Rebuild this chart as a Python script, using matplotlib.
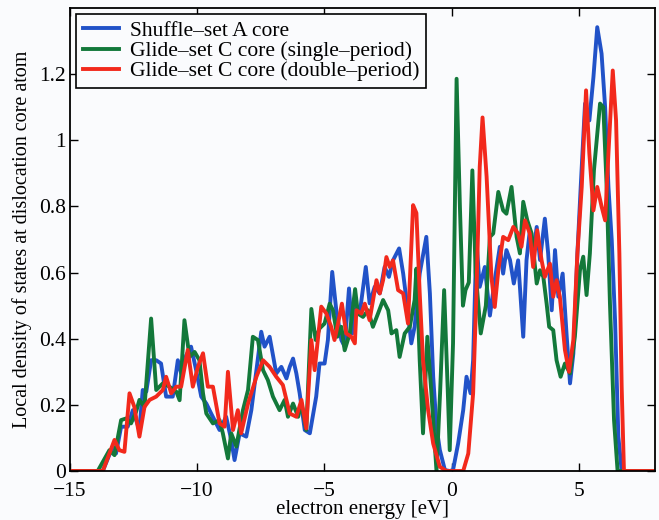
import numpy as np
import matplotlib
matplotlib.use("Agg")
import matplotlib.pyplot as plt

plt.rcParams['font.family'] = ['Liberation Serif', 'DejaVu Serif']

# Shuffle-set A core
e_shuffle = [-15.0, -13.71, -13.32, -13.19, -12.99, -12.73, -12.53, -12.27, -12.14, -12.0,
             -11.81, -11.61, -11.42, -11.22, -10.96, -10.76, -10.63, -10.43, -10.24, -10.04,
             -9.84, -9.64, -9.45, -9.12, -8.86, -8.66, -8.53, -8.33, -8.07, -7.87,
             -7.67, -7.48, -7.35, -7.15, -6.89, -6.69, -6.49, -6.36, -6.23, -6.1,
             -5.97, -5.77, -5.57, -5.32, -5.19, -4.99, -4.86, -4.69, -4.53, -4.33,
             -4.2, -4.03, -3.9, -3.74, -3.61, -3.37, -3.22, -3.02, -2.82, -2.63,
             -2.46, -2.3, -2.06, -1.9, -1.77, -1.58, -1.45, -1.25, -0.99, -0.85,
             -0.72, -0.59, -0.46, -0.26, -0.07, 0.06, 0.26, 0.46, 0.59, 0.75,
             0.85, 0.98, 1.11, 1.31, 1.51, 1.7, 1.9, 2.03, 2.16, 2.3,
             2.45, 2.62, 2.82, 2.95, 3.08, 3.21, 3.35, 3.48, 3.67, 3.8,
             3.94, 4.07, 4.2, 4.37, 4.53, 4.66, 4.79, 4.95, 5.08, 5.25,
             5.42, 5.58, 5.73, 5.9, 6.04, 6.17, 6.3, 6.43, 6.56, 6.69, 8.0]
d_shuffle = [0.0, 0.0, 0.074, 0.053, 0.134, 0.134, 0.184, 0.124, 0.245, 0.24,
             0.335, 0.335, 0.325, 0.225, 0.225, 0.335, 0.295, 0.35, 0.376, 0.305,
             0.225, 0.204, 0.174, 0.124, 0.164, 0.094, 0.033, 0.114, 0.104, 0.184,
             0.305, 0.421, 0.376, 0.406, 0.295, 0.315, 0.28, 0.315, 0.34, 0.295,
             0.235, 0.124, 0.114, 0.225, 0.325, 0.325, 0.396, 0.602, 0.486, 0.396,
             0.376, 0.552, 0.416, 0.5, 0.476, 0.617, 0.507, 0.557, 0.537, 0.617,
             0.587, 0.637, 0.673, 0.597, 0.517, 0.386, 0.436, 0.597, 0.708, 0.537,
             0.285, 0.134, 0.064, 0.003, 0.0, 0.003, 0.083, 0.184, 0.285, 0.235,
             0.335, 0.698, 0.557, 0.617, 0.47, 0.577, 0.678, 0.597, 0.668, 0.638,
             0.567, 0.637, 0.406, 0.638, 0.728, 0.658, 0.738, 0.638, 0.763, 0.658,
             0.486, 0.668, 0.527, 0.597, 0.406, 0.265, 0.355, 0.658, 0.859, 1.111,
             1.06, 1.191, 1.342, 1.262, 1.1, 0.859, 0.698, 0.456, 0.104, 0.0, 0.0]

# Glide-set C core (single-period)
e_single = [-15.0, -13.91, -13.45, -13.25, -12.99, -12.79, -12.6, -12.4, -12.27, -12.07,
            -11.81, -11.61, -11.35, -11.09, -10.82, -10.69, -10.5, -10.3, -10.1, -9.91,
            -9.77, -9.64, -9.38, -9.12, -8.99, -8.79, -8.66, -8.46, -8.2, -8.0,
            -7.81, -7.61, -7.41, -7.22, -7.02, -6.76, -6.56, -6.43, -6.23, -6.03,
            -5.9, -5.71, -5.51, -5.34, -5.19, -4.99, -4.79, -4.66, -4.49, -4.33,
            -4.2, -4.0, -3.79, -3.68, -3.48, -3.28, -3.09, -2.89, -2.69, -2.49,
            -2.36, -2.17, -2.04, -1.84, -1.64, -1.45, -1.38, -1.25, -1.12, -0.95,
            -0.79, -0.59, -0.45, -0.29, -0.15, -0.07, 0.06, 0.2, 0.33, 0.45,
            0.55, 0.68, 0.82, 0.95, 1.15, 1.35, 1.51, 1.64, 1.84, 2.03,
            2.16, 2.36, 2.56, 2.69, 2.82, 2.98, 3.15, 3.35, 3.48, 3.61,
            3.74, 3.84, 4.0, 4.13, 4.29, 4.46, 4.66, 4.85, 5.05, 5.18,
            5.31, 5.44, 5.6, 5.84, 5.97, 6.1, 6.23, 6.39, 6.53, 8.0]
d_single = [0.0, 0.0, 0.063, 0.048, 0.154, 0.159, 0.144, 0.179, 0.215, 0.194,
            0.461, 0.245, 0.265, 0.255, 0.24, 0.214, 0.456, 0.345, 0.36, 0.335,
            0.235, 0.174, 0.144, 0.154, 0.114, 0.038, 0.114, 0.074, 0.184, 0.245,
            0.406, 0.396, 0.305, 0.275, 0.225, 0.184, 0.215, 0.164, 0.204, 0.164,
            0.205, 0.124, 0.49, 0.396, 0.431, 0.446, 0.506, 0.486, 0.406, 0.436,
            0.365, 0.416, 0.55, 0.476, 0.466, 0.486, 0.436, 0.476, 0.517, 0.486,
            0.416, 0.426, 0.345, 0.416, 0.436, 0.517, 0.612, 0.335, 0.114, 0.406,
            0.235, 0.0, 0.235, 0.547, 0.25, 0.063, 0.386, 1.186, 0.8, 0.5,
            0.547, 0.57, 0.909, 0.6, 0.416, 0.5, 0.708, 0.718, 0.844, 0.788,
            0.778, 0.859, 0.708, 0.658, 0.814, 0.758, 0.718, 0.567, 0.607, 0.587,
            0.506, 0.436, 0.426, 0.335, 0.285, 0.325, 0.295, 0.406, 0.607, 0.648,
            0.532, 0.658, 0.909, 1.111, 1.1, 0.859, 0.506, 0.154, 0.0, 0.0]

# Glide-set C core (double-period)
e_double = [-15.0, -13.71, -13.25, -13.06, -12.86, -12.66, -12.47, -12.27, -12.07, -11.87,
            -11.61, -11.35, -11.22, -11.02, -10.82, -10.63, -10.37, -10.17, -9.97, -9.77,
            -9.58, -9.38, -9.12, -8.92, -8.79, -8.59, -8.4, -8.27, -8.0, -7.67,
            -7.41, -7.15, -6.89, -6.63, -6.36, -6.1, -5.9, -5.71, -5.51, -5.38,
            -5.12, -4.92, -4.73, -4.6, -4.46, -4.31, -4.14, -3.94, -3.8, -3.74,
            -3.54, -3.41, -3.22, -2.95, -2.82, -2.69, -2.56, -2.43, -2.3, -2.1,
            -1.9, -1.71, -1.51, -1.38, -1.25, -1.12, -0.92, -0.72, -0.46, -0.2,
            0.46, 0.66, 0.85, 0.98, 1.11, 1.22, 1.38, 1.57, 1.7, 1.84,
            2.03, 2.23, 2.43, 2.62, 2.75, 2.89, 3.08, 3.21, 3.37, 3.54,
            3.67, 3.87, 4.0, 4.13, 4.26, 4.46, 4.62, 4.79, 4.95, 5.12,
            5.29, 5.42, 5.58, 5.73, 5.9, 6.04, 6.17, 6.34, 6.47, 6.6,
            6.69, 6.78, 8.0]
d_double = [0.0, 0.0, 0.094, 0.063, 0.058, 0.235, 0.194, 0.104, 0.194, 0.215,
            0.225, 0.245, 0.285, 0.235, 0.255, 0.255, 0.366, 0.255, 0.315, 0.356,
            0.255, 0.255, 0.144, 0.134, 0.3, 0.124, 0.184, 0.114, 0.204, 0.285,
            0.335, 0.315, 0.285, 0.26, 0.174, 0.164, 0.215, 0.129, 0.396, 0.305,
            0.497, 0.476, 0.436, 0.396, 0.446, 0.506, 0.416, 0.406, 0.386, 0.486,
            0.476, 0.506, 0.456, 0.577, 0.537, 0.577, 0.647, 0.617, 0.637, 0.547,
            0.537, 0.446, 0.804, 0.78, 0.537, 0.335, 0.184, 0.083, 0.013, 0.0,
            0.0, 0.053, 0.235, 0.537, 0.92, 1.069, 0.89, 0.587, 0.496, 0.607,
            0.708, 0.698, 0.738, 0.718, 0.678, 0.758, 0.718, 0.617, 0.728, 0.638,
            0.587, 0.627, 0.527, 0.577, 0.527, 0.366, 0.3, 0.396, 0.658, 0.859,
            1.151, 0.96, 0.788, 0.859, 0.8, 0.758, 0.96, 1.211, 1.06, 0.658,
            0.255, 0.0, 0.0]

labels = ['Shuffle\u2013set A core',
          'Glide\u2013set C core (single\u2013period)',
          'Glide\u2013set C core (double\u2013period)']
colors = ['#2152c8', '#13783a', '#f2291c']

bg = '#fafbfd'
fig = plt.figure(figsize=(6.59, 5.20), dpi=100, facecolor=bg)
ax = fig.add_axes([0.1062, 0.0942, 0.8877, 0.8904], facecolor=bg)

ax.plot(e_shuffle, d_shuffle, color=colors[0], lw=2.8, label=labels[0],
        solid_joinstyle='round')
ax.plot(e_single, d_single, color=colors[1], lw=2.8, label=labels[1],
        solid_joinstyle='round')
ax.plot(e_double, d_double, color=colors[2], lw=2.8, label=labels[2],
        solid_joinstyle='round')

ax.set_xlim(-15, 8)
ax.set_ylim(0, 1.4)
ax.set_xticks([-15, -10, -5, 0, 5])
ax.set_xticklabels(['\u221215', '\u221210', '\u22125', '0', '5'])
ax.set_yticks([0, 0.2, 0.4, 0.6, 0.8, 1.0, 1.2])
ax.set_yticklabels(['0', '0.2', '0.4', '0.6', '0.8', '1', '1.2'], va='center_baseline')
ax.tick_params(direction='in', top=True, right=True, length=6, width=1,
               labelsize=15.5)
ax.tick_params(axis='x', pad=8)
ax.tick_params(axis='y', pad=3)
for sp in ax.spines.values():
    sp.set_linewidth(1.3)

ax.set_xlabel('electron energy [eV]', fontsize=15, labelpad=-1)
ax.set_ylabel('Local density of states at dislocation core atom', fontsize=14.5, labelpad=5)

leg = ax.legend(loc='upper left', fontsize=15.5, frameon=True, fancybox=False,
                edgecolor='black', framealpha=1, facecolor=bg,
                labelspacing=0.0, handlelength=1.7, handletextpad=0.5,
                borderpad=0.3, borderaxespad=0.3)
leg.get_frame().set_linewidth(1.2)

fig.savefig('out.png', dpi=100, facecolor=bg)
